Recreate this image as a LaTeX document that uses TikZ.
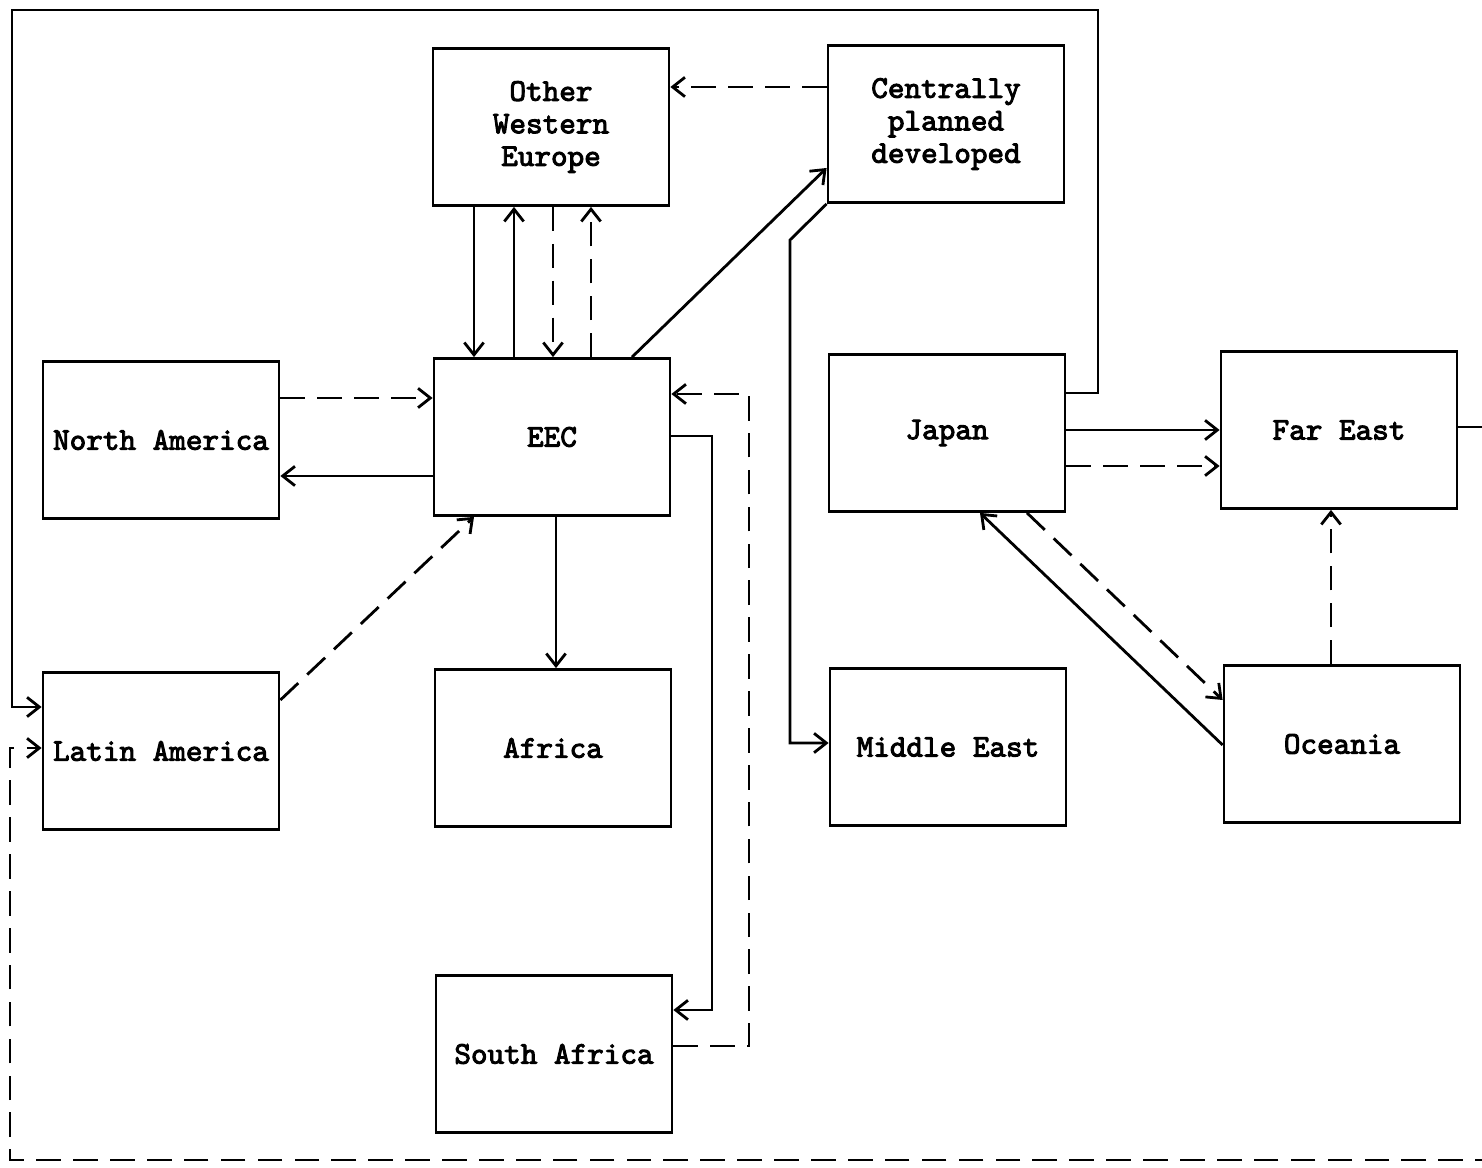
\documentclass[tikz,border=0pt]{standalone}
\usepackage{fontspec}
\newfontfamily\regionfont{lmmono10-regular.otf}[FakeBold=3]
\usetikzlibrary{arrows.meta}
\tikzset{>={Straight Barb[length=7pt,width=11pt]}}
\tikzset{
  region/.style={draw, line width=1.6pt, minimum width=4.72cm, minimum height=3.14cm,
    inner sep=1pt, align=center, font=\regionfont\fontsize{18}{18.5}\selectfont},
  flow/.style={->, line width=1.6pt},
  dflow/.style={flow, dash pattern=on 14pt off 7pt},
}

\begin{document}
\begin{tikzpicture}[x=0.02cm,y=-0.02cm]
  \useasboundingbox (0,0) rectangle (1482,1168);
  % regions
  \node[region] (OWE) at (551,127) {Other\\Western\\Europe};
  \node[region] (CPD) at (946,124) {Centrally\\planned\\developed};
  \node[region] (NA) at (161,440) {North America};
  \node[region] (EEC) at (552,437) {EEC};
  \node[region] (JAP) at (947,433) {Japan};
  \node[region] (FE) at (1339,430) {Far East};
  \node[region] (LA) at (161,751) {Latin America};
  \node[region] (AF) at (553,748) {Africa};
  \node[region] (ME) at (948,747) {Middle East};
  \node[region] (OC) at (1342,744) {Oceania};
  \node[region] (SA) at (554,1054) {South Africa};

  % EEC and Other Western Europe
  \draw[flow] (OWE.south -| 474,0) -- (EEC.north -| 474,0);
  \draw[flow] (EEC.north -| 514,0) -- (OWE.south -| 514,0);
  \draw[dflow] (OWE.south -| 553,0) -- (EEC.north -| 553,0);
  \draw[dflow] (EEC.north -| 591,0) -- (OWE.south -| 591,0);
  \draw[dflow] (CPD.west |- 0,87) -- (OWE.east |- 0,87);
  \draw[flow] (EEC.north -| 632,0) -- (CPD.west |- 0,168);
  \draw[flow] (CPD.south west) -- (790,240) -- (790,743) -- (ME.west |- 0,743);

  % Americas
  \draw[dflow] (NA.east |- 0,398) -- (EEC.west |- 0,398);
  \draw[flow] (EEC.west |- 0,476) -- (NA.east |- 0,476);
  \draw[dflow] (LA.east |- 0,700) -- (EEC.south -| 474,0);

  % Africa
  \draw[flow] (EEC.south -| 556,0) -- (AF.north -| 556,0);
  \draw[flow] (EEC.east |- 0,436) -| (712,1010) -- (SA.east |- 0,1010);
  \draw[dflow] (SA.east |- 0,1046) -| (749,394) -- (EEC.east |- 0,394);

  % Japan, Far East, Oceania
  \draw[flow] (JAP.east |- 0,430) -- (FE.west |- 0,430);
  \draw[dflow] (JAP.east |- 0,466) -- (FE.west |- 0,466);
  \draw[dflow] (JAP.south -| 1027,0) -- (OC.west |- 0,700);
  \draw[flow] (OC.west |- 0,745) -- (JAP.south -| 980,0);
  \draw[dflow] (OC.north -| 1331,0) -- (FE.south -| 1331,0);

  % round the edge to Latin America
  \draw[flow] (JAP.east |- 0,393) -| (1098,10) -| (12,707) -- (LA.west |- 0,707);
  \draw[dflow] (FE.east |- 0,427) -- (1500,427) |- (10,1160) |- (LA.west |- 0,748);
\end{tikzpicture}
\end{document}
